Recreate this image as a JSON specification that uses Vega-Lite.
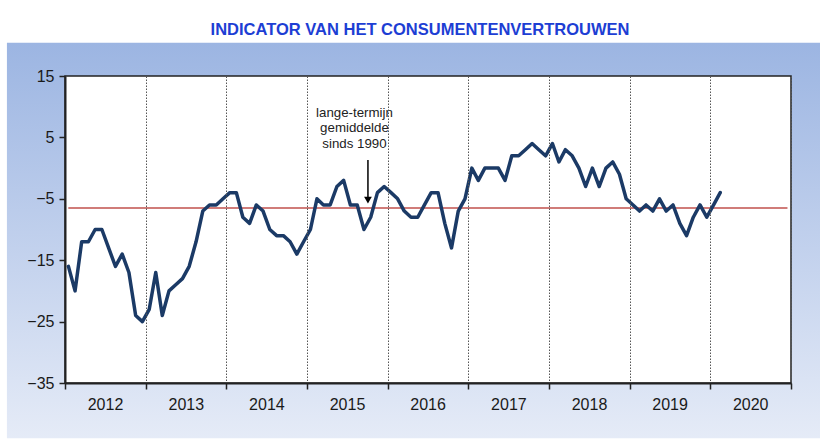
{
  "$schema": "https://vega.github.io/schema/vega-lite/v6.json",
  "width": 726,
  "height": 307,
  "autosize": {"type": "none"},
  "padding": {"left": 65, "top": 76, "right": 29, "bottom": 65},
  "background": "white",
  "config": {"view": {"stroke": null, "fill": null}, "font": "Liberation Sans"},
  "title": {
    "text": "INDICATOR VAN HET CONSUMENTENVERTROUWEN",
    "fontSize": 16.5,
    "fontWeight": "bold",
    "color": "#1d3ed4",
    "anchor": "middle",
    "frame": "group",
    "offset": 4,
    "dx": -8
  },
  "data": {
    "values": [
      {"date": "2012-01", "v": -16}, {"date": "2012-02", "v": -20}, {"date": "2012-03", "v": -12}, {"date": "2012-04", "v": -12},
      {"date": "2012-05", "v": -10}, {"date": "2012-06", "v": -10}, {"date": "2012-07", "v": -13}, {"date": "2012-08", "v": -16},
      {"date": "2012-09", "v": -14}, {"date": "2012-10", "v": -17}, {"date": "2012-11", "v": -24}, {"date": "2012-12", "v": -25},
      {"date": "2013-01", "v": -23}, {"date": "2013-02", "v": -17}, {"date": "2013-03", "v": -24}, {"date": "2013-04", "v": -20},
      {"date": "2013-05", "v": -19}, {"date": "2013-06", "v": -18}, {"date": "2013-07", "v": -16}, {"date": "2013-08", "v": -12},
      {"date": "2013-09", "v": -7}, {"date": "2013-10", "v": -6}, {"date": "2013-11", "v": -6}, {"date": "2013-12", "v": -5},
      {"date": "2014-01", "v": -4}, {"date": "2014-02", "v": -4}, {"date": "2014-03", "v": -8}, {"date": "2014-04", "v": -9},
      {"date": "2014-05", "v": -6}, {"date": "2014-06", "v": -7}, {"date": "2014-07", "v": -10}, {"date": "2014-08", "v": -11},
      {"date": "2014-09", "v": -11}, {"date": "2014-10", "v": -12}, {"date": "2014-11", "v": -14}, {"date": "2014-12", "v": -12},
      {"date": "2015-01", "v": -10}, {"date": "2015-02", "v": -5}, {"date": "2015-03", "v": -6}, {"date": "2015-04", "v": -6},
      {"date": "2015-05", "v": -3}, {"date": "2015-06", "v": -2}, {"date": "2015-07", "v": -6}, {"date": "2015-08", "v": -6},
      {"date": "2015-09", "v": -10}, {"date": "2015-10", "v": -8}, {"date": "2015-11", "v": -4}, {"date": "2015-12", "v": -3},
      {"date": "2016-01", "v": -4}, {"date": "2016-02", "v": -5}, {"date": "2016-03", "v": -7}, {"date": "2016-04", "v": -8},
      {"date": "2016-05", "v": -8}, {"date": "2016-06", "v": -6}, {"date": "2016-07", "v": -4}, {"date": "2016-08", "v": -4},
      {"date": "2016-09", "v": -9}, {"date": "2016-10", "v": -13}, {"date": "2016-11", "v": -7}, {"date": "2016-12", "v": -5},
      {"date": "2017-01", "v": 0}, {"date": "2017-02", "v": -2}, {"date": "2017-03", "v": 0}, {"date": "2017-04", "v": 0},
      {"date": "2017-05", "v": 0}, {"date": "2017-06", "v": -2}, {"date": "2017-07", "v": 2}, {"date": "2017-08", "v": 2},
      {"date": "2017-09", "v": 3}, {"date": "2017-10", "v": 4}, {"date": "2017-11", "v": 3}, {"date": "2017-12", "v": 2},
      {"date": "2018-01", "v": 4}, {"date": "2018-02", "v": 1}, {"date": "2018-03", "v": 3}, {"date": "2018-04", "v": 2},
      {"date": "2018-05", "v": 0}, {"date": "2018-06", "v": -3}, {"date": "2018-07", "v": 0}, {"date": "2018-08", "v": -3},
      {"date": "2018-09", "v": 0}, {"date": "2018-10", "v": 1}, {"date": "2018-11", "v": -1}, {"date": "2018-12", "v": -5},
      {"date": "2019-01", "v": -6}, {"date": "2019-02", "v": -7}, {"date": "2019-03", "v": -6}, {"date": "2019-04", "v": -7},
      {"date": "2019-05", "v": -5}, {"date": "2019-06", "v": -7}, {"date": "2019-07", "v": -6}, {"date": "2019-08", "v": -9},
      {"date": "2019-09", "v": -11}, {"date": "2019-10", "v": -8}, {"date": "2019-11", "v": -6}, {"date": "2019-12", "v": -8},
      {"date": "2020-01", "v": -6}, {"date": "2020-02", "v": -4}
    ]
  },
  "layer": [
    {
      "data": {"values": [{}]},
      "mark": {
        "type": "rect",
        "clip": false,
        "fill": {
          "gradient": "linear", "x1": 0, "y1": 0, "x2": 0, "y2": 1,
          "stops": [{"offset": 0, "color": "#9cb5e2"}, {"offset": 1, "color": "#e5ebf7"}]
        }
      },
      "encoding": {
        "x": {"datum": {"year": 2011, "month": 4, "date": 13, "utc": true}, "type": "temporal"},
        "x2": {"datum": {"year": 2021, "month": 7, "date": 1, "utc": true}},
        "y": {"datum": 20.4, "type": "quantitative"},
        "y2": {"datum": -44}
      }
    },
    {
      "data": {"values": [{}]},
      "mark": {"type": "rect", "fill": "white", "stroke": "#222222", "strokeWidth": 1.5, "clip": false},
      "encoding": {
        "x": {"datum": {"year": 2012, "month": 1, "date": 1, "utc": true}, "type": "temporal"},
        "x2": {"datum": {"year": 2021, "month": 1, "date": 1, "utc": true}},
        "y": {"datum": 15, "type": "quantitative"},
        "y2": {"datum": -35}
      }
    },
    {
      "data": {"values": [{}]},
      "mark": {"type": "rule", "color": "#c0504d", "strokeWidth": 1.5},
      "encoding": {
        "x": {"datum": {"year": 2012, "month": 1, "date": 16, "utc": true}, "type": "temporal"},
        "x2": {"datum": {"year": 2020, "month": 12, "date": 16, "utc": true}},
        "y": {"datum": -6.5, "type": "quantitative"}
      }
    },
    {
      "mark": {"type": "line", "color": "#1b3a66", "strokeWidth": 3.5, "strokeJoin": "round", "strokeCap": "round"},
      "encoding": {
        "x": {
          "field": "date",
          "timeUnit": "utcyearmonth",
          "type": "temporal",
          "bandPosition": 0.5,
          "scale": {
            "type": "utc",
            "nice": false,
            "domain": [{"year": 2012, "month": 1, "date": 1, "utc": true}, {"year": 2021, "month": 1, "date": 1, "utc": true}]
          },
          "axis": {
            "title": null,
            "zindex": 1,
            "values": [
              {"year": 2012, "month": 1, "date": 1, "utc": true}, {"year": 2013, "month": 1, "date": 1, "utc": true},
              {"year": 2014, "month": 1, "date": 1, "utc": true}, {"year": 2015, "month": 1, "date": 1, "utc": true},
              {"year": 2016, "month": 1, "date": 1, "utc": true}, {"year": 2017, "month": 1, "date": 1, "utc": true},
              {"year": 2018, "month": 1, "date": 1, "utc": true}, {"year": 2019, "month": 1, "date": 1, "utc": true},
              {"year": 2020, "month": 1, "date": 1, "utc": true}, {"year": 2021, "month": 1, "date": 1, "utc": true}
            ],
            "labelExpr": "utcyear(datum.value) > 2020 ? '' : utcFormat(datum.value, '%Y')",
            "labelOffset": 40,
            "labelFlush": false,
            "labelOverlap": false,
            "labelFontSize": 16,
            "labelColor": "#1a1a1a",
            "labelPadding": 7,
            "labelBaseline": "top",
            "tickSize": 6,
            "tickColor": "#222222",
            "tickWidth": 1.5,
            "domainColor": "#222222",
            "domainWidth": 2,
            "grid": true,
            "gridColor": "#555555",
            "gridDash": [1.5, 1.5],
            "gridWidth": 1
          }
        },
        "y": {
          "field": "v",
          "type": "quantitative",
          "scale": {"domain": [-35, 15], "nice": false, "zero": false},
          "axis": {
            "title": null,
            "zindex": 1,
            "values": [-35, -25, -15, -5, 5, 15],
            "grid": false,
            "labelFontSize": 16,
            "labelColor": "#1a1a1a",
            "labelPadding": 5,
            "tickSize": 6,
            "tickColor": "#222222",
            "tickWidth": 1.5,
            "domainColor": "#222222",
            "domainWidth": 2
          }
        }
      }
    },
    {
      "data": {"values": [{}]},
      "mark": {"type": "rule", "color": "black", "strokeWidth": 1.5},
      "encoding": {
        "x": {"datum": {"year": 2015, "month": 10, "date": 4, "utc": true}, "type": "temporal"},
        "y": {"datum": 1.3, "type": "quantitative"},
        "y2": {"datum": -4.8}
      }
    },
    {
      "data": {"values": [{}]},
      "mark": {"type": "point", "shape": "triangle-down", "filled": true, "color": "black", "opacity": 1, "size": 60},
      "encoding": {
        "x": {"datum": {"year": 2015, "month": 10, "date": 4, "utc": true}, "type": "temporal"},
        "y": {"datum": -5.2, "type": "quantitative"}
      }
    },
    {
      "data": {"values": [{}]},
      "mark": {
        "type": "text",
        "text": ["lange-termijn", "gemiddelde", "sinds 1990"],
        "fontSize": 13.3,
        "lineHeight": 15.5,
        "align": "center",
        "baseline": "middle",
        "color": "#222222"
      },
      "encoding": {
        "x": {"datum": {"year": 2015, "month": 8, "date": 4, "utc": true}, "type": "temporal"},
        "y": {"datum": 9.0, "type": "quantitative"}
      }
    }
  ]
}
